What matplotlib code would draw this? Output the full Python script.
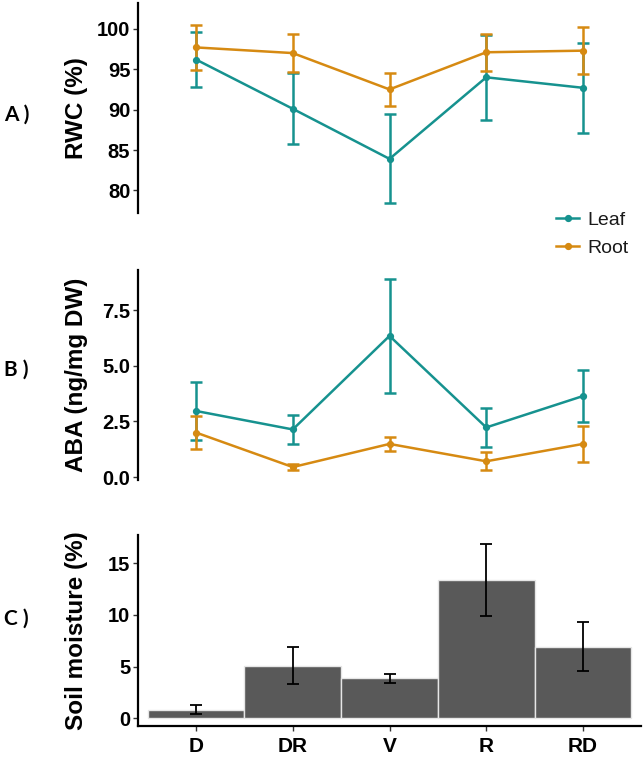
import matplotlib
matplotlib.use("Agg")
import matplotlib.pyplot as plt
from matplotlib.lines import Line2D
import numpy as np

# ---------------- data ----------------
categories = ["D", "DR", "V", "R", "RD"]

rwc_leaf = [96.2, 90.1, 83.9, 94.0, 92.7]
rwc_leaf_err = [3.4, 4.4, 5.5, 5.3, 5.6]
rwc_root = [97.7, 97.0, 92.5, 97.1, 97.3]
rwc_root_err = [2.8, 2.4, 2.0, 2.3, 2.95]

aba_leaf = [2.97, 2.14, 6.34, 2.23, 3.64]
aba_leaf_err = [1.3, 0.67, 2.56, 0.88, 1.15]
aba_root = [2.0, 0.45, 1.49, 0.71, 1.49]
aba_root_err = [0.75, 0.15, 0.33, 0.4, 0.82]

soil = [0.8, 5.09, 3.84, 13.42, 6.93]
soil_err = [0.45, 1.8, 0.45, 3.5, 2.35]

series_labels = ["Leaf", "Root"]
panel_labels = ["A )", "B )", "C )"]
ylabels = ["RWC (%)", "ABA (ng/mg DW)", "Soil moisture (%)"]
rwc_ticks = [80, 85, 90, 95, 100]
aba_ticks = [0.0, 2.5, 5.0, 7.5]
soil_ticks = [0, 5, 10, 15]

# ---------------- style ----------------
TEAL = "#16928F"
ORANGE = "#D68A12"
BAR = "#595959"
FONT = "Liberation Sans"

W, H = 644, 758
fig = plt.figure(figsize=(W / 100, H / 100), dpi=100)

def px_axes(left, right, top, bottom):
    return fig.add_axes([left / W, (H - bottom) / H, (right - left) / W, (bottom - top) / H])

axA = px_axes(138, 641, 3, 213)
axB = px_axes(138, 641, 270, 480)
axC = px_axes(138, 641, 535, 725.5)

x = np.arange(len(categories))

def style_axis(ax, show_x):
    for s in ["top", "right"]:
        ax.spines[s].set_visible(False)
    ax.spines["left"].set_linewidth(1.6)
    ax.spines["left"].set_color("black")
    if show_x:
        ax.spines["bottom"].set_linewidth(1.6)
        ax.spines["bottom"].set_color("black")
        ax.tick_params(axis="x", length=3.5, width=1.0, color="#333333", pad=5,
                       labelsize=15)
        ax.set_xticks(x)
        ax.set_xticklabels(categories, fontweight="bold", fontfamily=FONT)
    else:
        ax.spines["bottom"].set_visible(False)
        ax.tick_params(axis="x", bottom=False, labelbottom=False)
    ax.tick_params(axis="y", length=3.5, width=1.0, color="#333333", pad=2, labelsize=14.5)
    for lab in ax.get_yticklabels():
        lab.set_fontweight("bold")
        lab.set_fontfamily(FONT)
    ax.set_xlim(-0.6, 4.6)
    ax.patch.set_alpha(0)

def draw_lines(ax, leaf, leaf_err, root, root_err):
    for vals, errs, col, lab in [(leaf, leaf_err, TEAL, series_labels[0]),
                                 (root, root_err, ORANGE, series_labels[1])]:
        ax.errorbar(x, vals, yerr=errs, color=col, lw=1.8, marker="o", ms=4.2,
                    capsize=4.5, capthick=1.8, elinewidth=1.8, label=lab)

# Panel A
draw_lines(axA, rwc_leaf, rwc_leaf_err, rwc_root, rwc_root_err)
axA.set_ylim(77.2, 103.2)
axA.set_yticks(rwc_ticks)
axA.set_yticklabels([str(t) for t in rwc_ticks])
style_axis(axA, False)

# Panel B
draw_lines(axB, aba_leaf, aba_leaf_err, aba_root, aba_root_err)
axB.set_ylim(-0.13, 9.3)
axB.set_yticks(aba_ticks)
axB.set_yticklabels([f"{t:.1f}" for t in aba_ticks])
style_axis(axB, False)

# Panel C
axC.bar(x, soil, width=1.0, color=BAR, edgecolor="#e6e6e6", linewidth=1.0, zorder=2)
axC.errorbar(x, soil, yerr=soil_err, fmt="none", ecolor="black", elinewidth=1.3,
             capsize=4.5, capthick=1.3, zorder=3)
axC.set_ylim(-0.72, 17.75)
axC.set_yticks(soil_ticks)
axC.set_yticklabels([str(t) for t in soil_ticks])
style_axis(axC, True)

# y labels
for ax, lab in zip([axA, axB, axC], ylabels):
    ax.set_ylabel(lab, fontsize=17.5, fontweight="bold", fontfamily=FONT)
    ax.yaxis.set_label_coords((88 - 138) / 503, 0.5)

# panel letters
for lab, yc in zip(panel_labels, [115, 369.5, 618.5]):
    fig.text(4 / W, (H - yc) / H, lab, fontsize=15, fontweight="bold",
             fontfamily="Lato", ha="left", va="center")

# legend
handles = [Line2D([0], [0], color=c, lw=1.8, marker="o", ms=4.2) for c in (TEAL, ORANGE)]
leg = fig.legend(handles, series_labels, loc="center left",
                 bbox_to_anchor=(556 / W, (H - 234) / H), frameon=False,
                 prop={"family": FONT, "size": 14}, handlelength=1.2,
                 handletextpad=0.4, labelspacing=0.55, borderpad=0, borderaxespad=0)
for t in leg.get_texts():
    t.set_color("#1a1a1a")

fig.savefig("out.png", dpi=100)
